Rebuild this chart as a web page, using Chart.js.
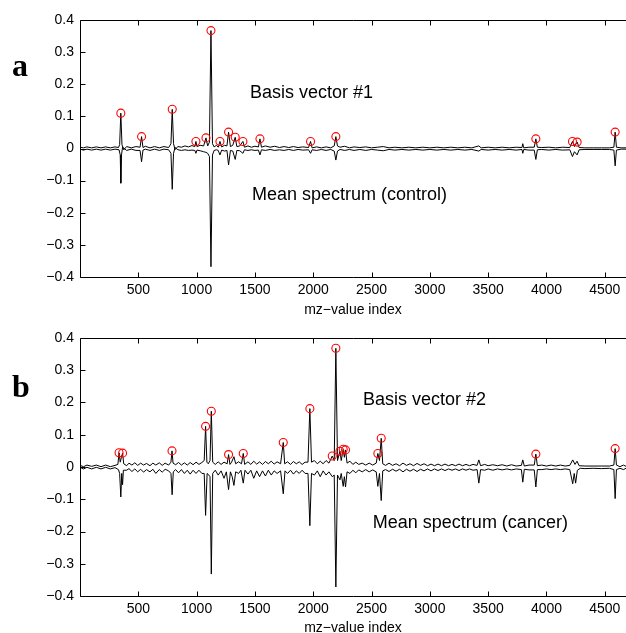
<!DOCTYPE html>
<html><head><meta charset="utf-8">
<script src="https://cdn.jsdelivr.net/npm/chart.js@4/dist/chart.umd.min.js"></script>
<style>
body{margin:0;background:#fff;overflow:hidden}
#wrap{position:relative;width:626px;height:633px;overflow:hidden;background:#fff}
canvas{position:absolute;left:0}
</style></head>
<body>
<div id="wrap">
<canvas id="ca" width="626" height="318" style="top:0"></canvas>
<canvas id="cb" width="626" height="318" style="top:318px"></canvas>
</div>
<script>
// ---------- DATA ----------
const xTicks = [500,1000,1500,2000,2500,3000,3500,4000,4500];
const yTicks = [-0.4,-0.3,-0.2,-0.1,0,0.1,0.2,0.3,0.4];
const xTitle = "mz\u2212value index";

// Panel a: basis vector #1 (upper trace)
const basis1 = [[0,0.004],[30,0.002],[60,0.005],[100,0.002],[140,0.005],[180,0.002],[220,0.005],[260,0.002],[300,0.005],[330,0.003],[340,0.012],[350,0.110],[360,0.012],[375,-0.004],[400,0.006],[440,0.002],[480,0.006],[515,0.004],[528,0.037],[540,0.003],[560,0.007],[600,0.002],[640,0.006],[680,0.002],[720,0.006],[760,0.003],[780,0.015],[791,0.122],[802,0.015],[815,-0.003],[840,0.006],[870,0.004],[900,0.008],[930,0.005],[960,0.009],[985,0.006],[994,0.022],[1003,0.006],[1030,0.010],[1060,0.008],[1080,0.033],[1095,0.008],[1110,0.020],[1123,0.367],[1136,0.015],[1150,0.005],[1170,0.010],[1185,0.004],[1200,0.022],[1215,0.005],[1240,0.010],[1260,0.008],[1274,0.051],[1290,0.006],[1310,0.010],[1331,0.035],[1345,0.006],[1370,0.008],[1397,0.022],[1410,0.004],[1440,0.008],[1470,0.004],[1500,0.007],[1530,0.005],[1543,0.030],[1556,0.004],[1590,0.008],[1630,0.004],[1670,0.007],[1710,0.003],[1750,0.006],[1790,0.003],[1830,0.006],[1870,0.003],[1910,0.005],[1960,0.003],[1977,0.022],[1990,0.002],[2030,0.005],[2070,0.002],[2110,0.005],[2150,0.002],[2180,0.008],[2194,0.037],[2208,0.008],[2230,0.004],[2270,0.007],[2310,0.002],[2350,0.005],[2400,0.003],[2450,0.005],[2500,0.002],[2550,0.004],[2600,0.006],[2650,0.002],[2700,0.004],[2760,0.002],[2820,0.004],[2880,0.002],[2940,0.004],[3000,0.002],[3060,0.004],[3120,0.002],[3180,0.004],[3240,0.002],[3300,0.004],[3360,0.002],[3420,0.008],[3440,0.002],[3500,0.004],[3560,0.002],[3620,0.004],[3680,0.002],[3740,0.004],[3790,0.003],[3797,0.015],[3805,0.002],[3850,0.004],[3895,0.004],[3909,0.030],[3922,0.004],[3960,0.003],[4020,0.004],[4080,0.002],[4140,0.004],[4200,0.003],[4223,0.022],[4240,0.006],[4263,0.020],[4280,0.003],[4330,0.002],[4400,0.002],[4470,0.002],[4540,0.002],[4578,0.004],[4589,0.051],[4600,0.004],[4640,0.002],[4682,0.002]];

// Panel a: mean spectrum (control), drawn mirrored below zero
const control = [[0,-0.002],[30,-0.005],[60,-0.002],[100,-0.005],[140,-0.002],[180,-0.005],[220,-0.002],[260,-0.005],[300,-0.002],[335,-0.004],[345,-0.020],[350,-0.108],[356,-0.020],[365,0.004],[400,-0.006],[440,-0.002],[480,-0.006],[515,-0.006],[528,-0.041],[540,-0.005],[560,-0.002],[600,-0.006],[640,-0.002],[680,-0.006],[720,-0.002],[760,-0.004],[780,-0.015],[791,-0.127],[802,-0.015],[815,0.003],[840,-0.004],[870,-0.006],[900,-0.004],[930,-0.006],[960,-0.005],[985,-0.006],[994,-0.015],[1003,-0.005],[1030,-0.007],[1060,-0.010],[1080,-0.012],[1095,-0.015],[1110,-0.025],[1123,-0.368],[1136,-0.020],[1150,-0.006],[1170,-0.004],[1185,-0.006],[1200,-0.020],[1215,-0.005],[1240,-0.008],[1260,-0.006],[1274,-0.051],[1290,-0.006],[1310,-0.008],[1331,-0.034],[1345,-0.006],[1370,-0.007],[1397,-0.015],[1410,-0.004],[1440,-0.006],[1470,-0.004],[1500,-0.006],[1530,-0.005],[1543,-0.020],[1556,-0.004],[1590,-0.006],[1630,-0.003],[1670,-0.006],[1710,-0.004],[1750,-0.006],[1790,-0.003],[1830,-0.006],[1870,-0.003],[1910,-0.005],[1960,-0.004],[1977,-0.015],[1990,-0.004],[2030,-0.006],[2070,-0.003],[2110,-0.006],[2150,-0.003],[2180,-0.008],[2194,-0.036],[2208,-0.008],[2230,-0.003],[2270,-0.006],[2310,-0.003],[2350,-0.006],[2400,-0.003],[2450,-0.006],[2500,-0.003],[2550,-0.005],[2600,-0.007],[2650,-0.003],[2700,-0.005],[2760,-0.003],[2820,-0.005],[2880,-0.003],[2940,-0.005],[3000,-0.003],[3060,-0.005],[3120,-0.003],[3180,-0.005],[3240,-0.003],[3300,-0.005],[3360,-0.003],[3420,-0.008],[3440,-0.003],[3500,-0.005],[3560,-0.003],[3620,-0.005],[3680,-0.003],[3740,-0.005],[3790,-0.003],[3797,-0.015],[3805,-0.003],[3850,-0.005],[3895,-0.005],[3909,-0.034],[3922,-0.004],[3960,-0.003],[4020,-0.005],[4080,-0.003],[4140,-0.005],[4200,-0.004],[4223,-0.025],[4240,-0.010],[4263,-0.020],[4280,-0.004],[4330,-0.003],[4400,-0.003],[4470,-0.003],[4540,-0.003],[4578,-0.005],[4589,-0.054],[4600,-0.005],[4640,-0.002],[4682,-0.002]];

const peaks1 = [[350,0.110],[528,0.037],[791,0.122],[994,0.022],[1080,0.033],[1123,0.367],[1200,0.022],[1274,0.051],[1331,0.035],[1397,0.022],[1543,0.030],[1977,0.022],[2194,0.037],[3909,0.030],[4223,0.022],[4263,0.020],[4589,0.051]];

// Panel b: basis vector #2 (upper trace)
const basis2 = [[0,0.005],[30,0.001],[60,0.006],[100,0.002],[140,0.006],[180,0.001],[220,0.006],[260,0.001],[300,0.005],[325,0.008],[335,0.044],[345,0.015],[355,0.030],[365,0.043],[375,0.010],[400,0.004],[420,0.012],[445,0.006],[470,0.013],[495,0.005],[520,0.012],[545,0.006],[570,0.011],[600,0.004],[625,0.012],[650,0.006],[680,0.013],[705,0.005],[730,0.012],[760,0.006],[780,0.015],[789,0.050],[798,0.012],[820,0.007],[845,0.014],[870,0.006],[895,0.013],[920,0.006],[945,0.014],[970,0.007],[995,0.015],[1020,0.008],[1045,0.014],[1065,0.020],[1077,0.126],[1088,0.015],[1100,0.010],[1115,0.020],[1126,0.173],[1138,0.015],[1160,0.008],[1185,0.016],[1210,0.008],[1235,0.015],[1262,0.010],[1274,0.0385],[1286,0.008],[1300,0.015],[1320,0.032],[1335,0.010],[1360,0.016],[1385,0.010],[1400,0.042],[1412,0.008],[1440,0.016],[1465,0.008],[1490,0.018],[1515,0.009],[1540,0.016],[1565,0.008],[1590,0.017],[1615,0.010],[1640,0.018],[1665,0.009],[1690,0.016],[1720,0.010],[1743,0.076],[1755,0.010],[1780,0.016],[1805,0.008],[1830,0.017],[1855,0.010],[1880,0.016],[1905,0.008],[1930,0.015],[1955,0.015],[1971,0.181],[1985,0.015],[2010,0.020],[2035,0.010],[2060,0.018],[2085,0.010],[2110,0.020],[2135,0.012],[2163,0.034],[2180,0.020],[2194,0.368],[2208,0.020],[2229,0.049],[2240,0.020],[2257,0.055],[2267,0.030],[2277,0.053],[2290,0.012],[2315,0.018],[2340,0.008],[2365,0.015],[2390,0.008],[2420,0.012],[2450,0.006],[2480,0.012],[2510,0.006],[2540,0.012],[2554,0.042],[2568,0.020],[2583,0.089],[2596,0.010],[2620,0.005],[2650,0.012],[2680,0.005],[2710,0.010],[2740,0.004],[2770,0.012],[2800,0.005],[2830,0.010],[2860,0.004],[2890,0.011],[2920,0.005],[2950,0.010],[2980,0.004],[3010,0.009],[3040,0.004],[3070,0.009],[3100,0.004],[3130,0.009],[3160,0.004],[3190,0.008],[3220,0.004],[3250,0.009],[3280,0.004],[3310,0.008],[3340,0.004],[3370,0.008],[3405,0.005],[3420,0.022],[3435,0.004],[3470,0.008],[3500,0.004],[3540,0.007],[3580,0.004],[3620,0.007],[3660,0.003],[3700,0.007],[3740,0.003],[3785,0.005],[3797,0.022],[3810,0.003],[3850,0.006],[3895,0.006],[3909,0.040],[3922,0.004],[3960,0.006],[4000,0.003],[4040,0.006],[4080,0.003],[4120,0.006],[4160,0.003],[4200,0.005],[4225,0.022],[4245,0.008],[4262,0.018],[4280,0.004],[4330,0.003],[4400,0.003],[4470,0.003],[4540,0.003],[4578,0.006],[4589,0.057],[4600,0.006],[4630,0.001],[4660,0.006],[4682,0.002]];

// Panel b: mean spectrum (cancer), drawn mirrored below zero
const cancer = [[0,-0.001],[30,-0.006],[60,-0.001],[100,-0.006],[140,-0.001],[180,-0.006],[220,-0.001],[260,-0.006],[300,-0.002],[330,-0.008],[340,-0.020],[350,-0.093],[358,-0.020],[365,-0.055],[372,-0.010],[400,-0.010],[420,-0.005],[445,-0.014],[470,-0.006],[495,-0.015],[520,-0.007],[545,-0.016],[570,-0.008],[600,-0.015],[625,-0.007],[650,-0.020],[680,-0.008],[705,-0.016],[730,-0.007],[760,-0.012],[780,-0.020],[790,-0.086],[800,-0.015],[820,-0.008],[845,-0.018],[870,-0.008],[895,-0.020],[920,-0.010],[945,-0.022],[970,-0.010],[995,-0.020],[1020,-0.010],[1045,-0.020],[1065,-0.020],[1077,-0.150],[1090,-0.020],[1105,-0.025],[1115,-0.030],[1126,-0.332],[1138,-0.020],[1160,-0.010],[1185,-0.025],[1210,-0.012],[1235,-0.035],[1255,-0.015],[1274,-0.070],[1290,-0.015],[1305,-0.030],[1320,-0.057],[1335,-0.015],[1360,-0.020],[1380,-0.010],[1400,-0.050],[1415,-0.010],[1440,-0.022],[1465,-0.010],[1490,-0.035],[1515,-0.012],[1540,-0.030],[1565,-0.012],[1590,-0.028],[1615,-0.010],[1640,-0.025],[1665,-0.012],[1690,-0.020],[1720,-0.012],[1743,-0.083],[1758,-0.012],[1780,-0.020],[1805,-0.010],[1830,-0.022],[1855,-0.012],[1880,-0.020],[1905,-0.010],[1930,-0.020],[1955,-0.020],[1971,-0.182],[1985,-0.020],[2010,-0.025],[2035,-0.012],[2060,-0.030],[2085,-0.012],[2110,-0.025],[2135,-0.015],[2163,-0.030],[2180,-0.025],[2194,-0.372],[2208,-0.025],[2229,-0.040],[2240,-0.020],[2257,-0.060],[2267,-0.030],[2277,-0.062],[2290,-0.015],[2315,-0.020],[2340,-0.010],[2365,-0.018],[2390,-0.009],[2420,-0.015],[2450,-0.008],[2480,-0.015],[2510,-0.009],[2540,-0.015],[2554,-0.060],[2568,-0.020],[2583,-0.104],[2596,-0.012],[2620,-0.008],[2650,-0.014],[2680,-0.007],[2710,-0.013],[2740,-0.007],[2770,-0.015],[2800,-0.007],[2830,-0.013],[2860,-0.007],[2890,-0.014],[2920,-0.007],[2950,-0.012],[2980,-0.006],[3010,-0.012],[3040,-0.006],[3070,-0.011],[3100,-0.006],[3130,-0.011],[3160,-0.006],[3190,-0.010],[3220,-0.006],[3250,-0.011],[3280,-0.006],[3310,-0.010],[3340,-0.006],[3370,-0.010],[3405,-0.008],[3420,-0.050],[3435,-0.008],[3470,-0.010],[3500,-0.006],[3540,-0.010],[3580,-0.006],[3620,-0.009],[3660,-0.006],[3700,-0.009],[3740,-0.006],[3785,-0.008],[3797,-0.047],[3810,-0.007],[3850,-0.009],[3895,-0.009],[3909,-0.062],[3922,-0.008],[3960,-0.008],[4000,-0.006],[4040,-0.008],[4080,-0.006],[4120,-0.008],[4160,-0.006],[4200,-0.008],[4225,-0.052],[4238,-0.020],[4250,-0.050],[4265,-0.010],[4290,-0.004],[4330,-0.005],[4400,-0.004],[4470,-0.005],[4540,-0.004],[4578,-0.008],[4589,-0.098],[4600,-0.008],[4630,-0.004],[4660,-0.008],[4682,-0.004]];

const peaks2 = [[335,0.044],[365,0.043],[789,0.050],[1077,0.126],[1126,0.173],[1274,0.0385],[1400,0.042],[1743,0.076],[1971,0.181],[2163,0.034],[2194,0.368],[2229,0.049],[2257,0.055],[2277,0.053],[2554,0.042],[2583,0.089],[3909,0.040],[4589,0.057]];

const panelLabels = ["a", "b"];
const notesA = ["Basis vector #1", "Mean spectrum (control)"];
const notesB = ["Basis vector #2", "Mean spectrum (cancer)"];

// ---------- RENDERING ----------
const SANS = "'Liberation Sans', Arial, Helvetica, sans-serif";
const toXY = arr => arr.map(p => ({x: p[0], y: p[1]}));
const fmtY = v => { const r = Math.round(v*10)/10; if (r === 0) return "0"; return (r < 0 ? "\u2212" : "") + Math.abs(r).toFixed(1); };

const framePlugin = {
  id: 'frame',
  afterDraw(chart, args, opts) {
    const ctx = chart.ctx, a = chart.chartArea;
    const xs = chart.scales.x, ys = chart.scales.y;
    const L = Math.round(a.left) + 0.5, T = Math.round(a.top) + 0.5, B = Math.round(a.bottom) + 0.5;
    ctx.save();
    ctx.strokeStyle = '#000';
    ctx.lineWidth = 1;
    ctx.beginPath();
    // left, top and bottom borders (right edge lies beyond the visible area)
    ctx.moveTo(a.right + 2, T); ctx.lineTo(L, T); ctx.lineTo(L, B); ctx.lineTo(a.right + 2, B);
    const tl = 5;
    xs.ticks.forEach(t => {
      const px = Math.round(xs.getPixelForValue(t.value)) + 0.5;
      ctx.moveTo(px, B); ctx.lineTo(px, B - tl);
      ctx.moveTo(px, T); ctx.lineTo(px, T + tl);
    });
    ys.ticks.forEach(t => {
      const py = Math.round(ys.getPixelForValue(t.value)) + 0.5;
      ctx.moveTo(L, py); ctx.lineTo(L + tl, py);
    });
    ctx.stroke();
    // notes
    ctx.fillStyle = '#000';
    ctx.font = '18px ' + SANS;
    ctx.textAlign = 'left';
    ctx.textBaseline = 'middle';
    opts.notes.forEach(n => {
      ctx.fillText(n.text, xs.getPixelForValue(n.x), ys.getPixelForValue(n.y));
    });
    // panel letter
    ctx.font = "bold 32px 'Liberation Serif', 'Times New Roman', serif";
    ctx.textBaseline = 'alphabetic';
    ctx.fillText(opts.letter, opts.lx, opts.ly);
    ctx.restore();
  }
};

function makeChart(id, upper, lower, peaks, plotBottom, notes, letter, ly) {
  return new Chart(document.getElementById(id), {
    type: 'line',
    data: {
      datasets: [
        {data: toXY(peaks), type: 'scatter', showLine: false, pointRadius: 4, pointBorderWidth: 1.1,
         pointBorderColor: '#ff0000', pointBackgroundColor: 'rgba(0,0,0,0)', order: 0},
        {data: toXY(upper), borderColor: '#000', borderWidth: 1, pointRadius: 0, tension: 0, fill: false, order: 1},
        {data: toXY(lower), borderColor: '#000', borderWidth: 1, pointRadius: 0, tension: 0, fill: false, order: 2}
      ]
    },
    options: {
      responsive: false, animation: false, devicePixelRatio: 1,
      layout: {autoPadding: false, padding: {top: 20, right: 0, left: 0, bottom: 0}},
      plugins: {legend: {display: false}, tooltip: {enabled: false},
        frame: {notes: notes, letter: letter, lx: 12, ly: ly}},
      scales: {
        x: {type: 'linear', min: 0, max: 4682,
          afterBuildTicks: s => { s.ticks = xTicks.map(v => ({value: v})); },
          afterFit: s => { s.height = 318 - plotBottom; s.paddingRight = 0; s.paddingLeft = 0; },
          grid: {display: false, drawTicks: false}, border: {display: false},
          ticks: {padding: 5, color: '#000', font: {family: SANS, size: 14}, maxRotation: 0, autoSkip: false,
            callback: v => String(v)},
          title: {display: true, text: xTitle, color: '#000', font: {family: SANS, size: 14}, padding: {top: 0, bottom: -1}}
        },
        y: {type: 'linear', min: -0.4, max: 0.4,
          afterBuildTicks: s => { s.ticks = yTicks.map(v => ({value: v})); },
          afterFit: s => { s.width = 80; },
          grid: {display: false, drawTicks: false}, border: {display: false},
          ticks: {padding: 6, color: '#000', font: {family: SANS, size: 14}, callback: v => fmtY(v), autoSkip: false}
        }
      }
    },
    plugins: [framePlugin]
  });
}

makeChart('ca', basis1, control, peaks1, 277,
  [{text: notesA[0], x: 1457, y: 0.173}, {text: notesA[1], x: 1474, y: -0.145}], panelLabels[0], 76);
makeChart('cb', basis2, cancer, peaks2, 278,
  [{text: notesB[0], x: 2426, y: 0.208}, {text: notesB[1], x: 2511, y: -0.175}], panelLabels[1], 79);
</script>
</body></html>
